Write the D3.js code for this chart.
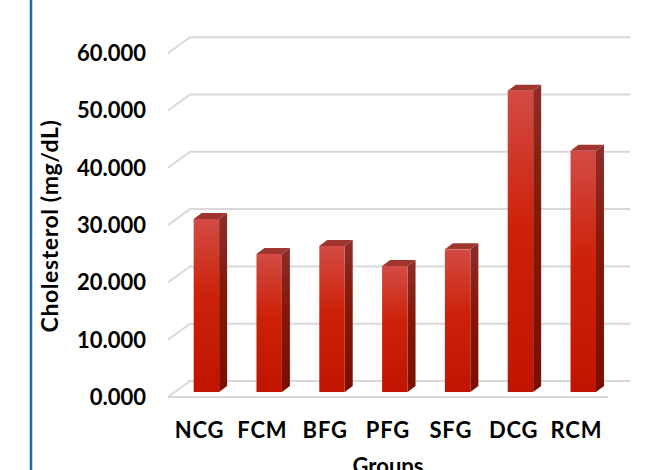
<!DOCTYPE html>
<html>
<head>
<meta charset="utf-8">
<script src="https://cdn.jsdelivr.net/npm/d3@7"></script>
<style>
  body { margin: 0; background: #fff; }
  text { font-family: Lato, "DejaVu Sans", sans-serif; font-weight: bold; fill: #000; }
</style>
</head>
<body>
<svg id="chart" width="671" height="470"></svg>
<script>
// data
const groups = ["NCG", "FCM", "BFG", "PFG", "SFG", "DCG", "RCM"];
const cholesterol = [30.2, 24.1, 25.5, 22.0, 24.9, 52.6, 42.1];
const yTicks = [0, 10, 20, 30, 40, 50, 60];

const svg = d3.select("#chart");

// blue rule at the left edge
svg.append("line")
    .attr("x1", 31).attr("x2", 31).attr("y1", 0).attr("y2", 470)
    .attr("stroke", "#1b6ea3").attr("stroke-width", 2.5);

// 3d geometry: front floor edge and depth offset toward the back wall
const floorFront = 397;
const depth = {dx: 22, dy: -16};

const x = d3.scaleBand().domain(groups).range([168, 608]).paddingInner(0.595).paddingOuter(0.3);
const h = d3.scaleLinear().domain([0, 60]).range([0, 343.8]);

// gradients
const defs = svg.append("defs");
const gFront = defs.append("linearGradient").attr("id", "front").attr("x1", 0).attr("x2", 0).attr("y1", 0).attr("y2", 1);
gFront.append("stop").attr("offset", "0%").attr("stop-color", "#d24b44");
gFront.append("stop").attr("offset", "45%").attr("stop-color", "#cd2209");
gFront.append("stop").attr("offset", "100%").attr("stop-color", "#c01400");
const gSide = defs.append("linearGradient").attr("id", "side").attr("x1", 0).attr("x2", 0).attr("y1", 0).attr("y2", 1);
gSide.append("stop").attr("offset", "0%").attr("stop-color", "#8c2e29");
gSide.append("stop").attr("offset", "45%").attr("stop-color", "#841708");
gSide.append("stop").attr("offset", "100%").attr("stop-color", "#7a0e00");

// grid: back wall lines + diagonal on the side wall
const grid = svg.append("g").attr("stroke", "#d9d9d9").attr("stroke-width", 2).attr("fill", "none");
const x0 = x.range()[0], x1 = x.range()[1];
yTicks.forEach(t => {
  const yb = floorFront + depth.dy - h(t);
  grid.append("path")
      .attr("d", `M${x0},${yb - depth.dy}L${x0 + depth.dx},${yb}L${x1 + depth.dx},${yb}`);
});
// front floor edge
grid.append("line").attr("x1", x0).attr("x2", x1).attr("y1", floorFront).attr("y2", floorFront);

// tick labels sit at the front end of each gridline
svg.append("g").selectAll("text").data(yTicks).join("text")
    .attr("x", 146)
    .attr("y", d => floorFront - h(d))
    .attr("dy", "0.36em")
    .attr("text-anchor", "end")
    .attr("font-size", 22)
    .text(d => d3.format(".3f")(d));

// bars: front face placed about a third of the way into the floor
const f = 0.31, bd = {dx: 8, dy: -6};
const bars = svg.append("g").selectAll("g").data(groups).join("g");
bars.each(function(g, i) {
  const sel = d3.select(this);
  const xl = x(g) + depth.dx * f;
  const w = x.bandwidth();
  const yb = floorFront + depth.dy * f;
  const yt = yb - h(cholesterol[i]);
  sel.append("path").attr("fill", "url(#side)")
      .attr("d", `M${xl + w},${yt}L${xl + w + bd.dx},${yt + bd.dy}L${xl + w + bd.dx},${yb + bd.dy}L${xl + w},${yb}Z`);
  sel.append("path").attr("fill", "#a0352f")
      .attr("d", `M${xl},${yt}L${xl + bd.dx},${yt + bd.dy}L${xl + w + bd.dx},${yt + bd.dy}L${xl + w},${yt}Z`);
  sel.append("rect").attr("fill", "url(#front)")
      .attr("x", xl).attr("y", yt).attr("width", w).attr("height", yb - yt);
});

// category labels
svg.append("g").selectAll("text").data(groups).join("text")
    .attr("x", d => x(d) + x.bandwidth() / 2)
    .attr("y", 438)
    .attr("text-anchor", "middle")
    .attr("font-size", 22)
    .attr("letter-spacing", 0.8)
    .text(d => d);

// axis titles
svg.append("text")
    .attr("transform", "translate(58,226) rotate(-90)")
    .attr("text-anchor", "middle")
    .attr("font-size", 23)
    .attr("letter-spacing", 0.6)
    .text("Cholesterol (mg/dL)");

svg.append("text")
    .attr("x", 388).attr("y", 474)
    .attr("text-anchor", "middle")
    .attr("font-size", 22)
    .text("Groups");
</script>
</body>
</html>
